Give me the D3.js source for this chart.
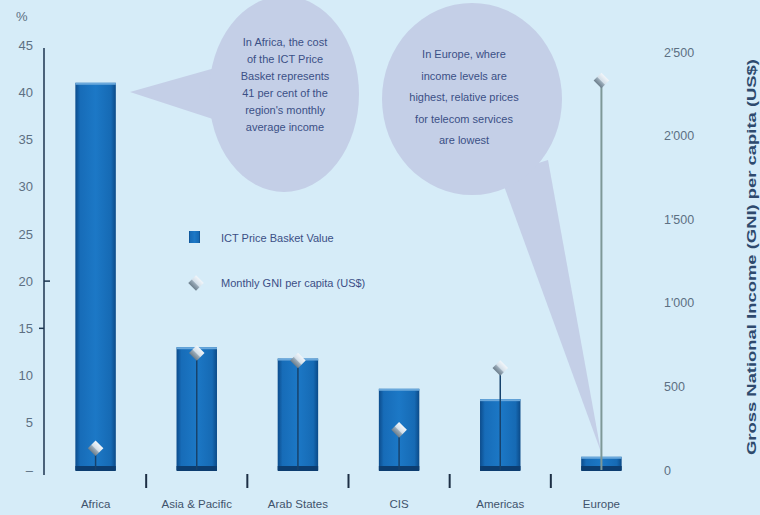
<!DOCTYPE html>
<html>
<head>
<meta charset="utf-8">
<script src="https://cdn.jsdelivr.net/npm/d3@7"></script>
<style>
  body { margin: 0; background: #d6ecf8; }
  svg { display: block; font-family: "Liberation Sans", Arial, sans-serif; }
</style>
</head>
<body>
<div id="chart"></div>
<script>
var regions = ["Africa", "Asia & Pacific", "Arab States", "CIS", "Americas", "Europe"];
var basketPct = [41, 13, 11.8, 8.6, 7.5, 1.4];
var gniMonthly = [130, 700, 655, 240, 610, 2330];
var pctTicks = [0, 5, 10, 15, 20, 25, 30, 35, 40, 45];
var gniTicks = [0, 500, 1000, 1500, 2000, 2500];

var W = 760, H = 515;
var svg = d3.select("#chart").append("svg")
    .attr("width", W)
    .attr("height", H)

svg.append("rect").attr("width", W).attr("height", H).attr("fill", "#d6ecf8")

var defs = svg.append("defs")
var grad = defs.append("linearGradient").attr("id", "barGrad")
    .attr("x1", "0").attr("x2", "1").attr("y1", "0").attr("y2", "0")
grad.append("stop").attr("offset", "0").attr("stop-color", "#0c4c8c")
grad.append("stop").attr("offset", "0.12").attr("stop-color", "#176cb8")
grad.append("stop").attr("offset", "0.5").attr("stop-color", "#1c78c6")
grad.append("stop").attr("offset", "0.88").attr("stop-color", "#166ab4")
grad.append("stop").attr("offset", "1").attr("stop-color", "#0b4a88")

var dGrad = defs.append("linearGradient").attr("id", "diaGrad")
    .attr("x1", "0").attr("x2", "0").attr("y1", "0").attr("y2", "1")
dGrad.append("stop").attr("offset", "0").attr("stop-color", "#f2f6fa")
dGrad.append("stop").attr("offset", "0.5").attr("stop-color", "#d3dfe9")
dGrad.append("stop").attr("offset", "0.6").attr("stop-color", "#9aabb9")
dGrad.append("stop").attr("offset", "1").attr("stop-color", "#6c7e8c")

// scales
var x = d3.scaleBand()
    .domain(regions)
    .range([45, 652])
    .paddingInner(0.6)
    .paddingOuter(0.3)

var y = d3.scaleLinear()
    .domain([0, 45])
    .range([470, 45])

var y2 = d3.scaleLinear()
    .domain([0, 2500])
    .range([470, 52])

// speech bubbles
var bubble = "#c4cfe7";
svg.append("path")
    .attr("d", "M130,92 L222,66 L222,122 Z")
    .attr("fill", bubble)
svg.append("ellipse")
    .attr("cx", 284).attr("cy", 94).attr("rx", 75).attr("ry", 98)
    .attr("fill", bubble)

svg.append("path")
    .attr("d", "M500,175 L548,160 L601,452 Z")
    .attr("fill", bubble)
svg.append("ellipse")
    .attr("cx", 472).attr("cy", 99).attr("rx", 90).attr("ry", 96)
    .attr("fill", bubble)

var note1 = ["In Africa, the cost", "of the ICT Price", "Basket represents", "41 per cent of the", "region's monthly", "average income"];
var note2 = ["In Europe, where", "income levels are", "highest, relative prices", "for telecom services", "are lowest"];

svg.append("g").selectAll("text")
    .data(note1)
    .enter().append("text")
    .attr("x", 285)
    .attr("y", function (d, i) { return 46 + i * 17; })
    .attr("text-anchor", "middle")
    .attr("fill", "#3b4f86")
    .style("font-size", "11px")
    .text(function (d) { return d; })

svg.append("g").selectAll("text")
    .data(note2)
    .enter().append("text")
    .attr("x", 464)
    .attr("y", function (d, i) { return 58 + i * 21.5; })
    .attr("text-anchor", "middle")
    .attr("fill", "#3b4f86")
    .style("font-size", "11px")
    .text(function (d) { return d; })

// left axis
var yAxisCall = d3.axisLeft(y)
    .tickValues(pctTicks)
    .tickSize(0)
    .tickSizeOuter(0)
    .tickPadding(11)
    .tickFormat(function (d) { return d === 0 ? "–" : d; })
var gy = svg.append("g")
    .attr("transform", "translate(44,0)")
    .call(yAxisCall)
gy.select(".domain").attr("stroke", "#1d3550").attr("stroke-width", 1.5)
    .attr("d", "M0," + (y(45) + 3) + "V" + (y(0) + 5))
gy.selectAll("text").attr("fill", "#5d7083").style("font-size", "13px")

// a couple of visible minor ticks
svg.append("line").attr("x1", 44).attr("x2", 50).attr("y1", y(20)).attr("y2", y(20))
    .attr("stroke", "#1d3550").attr("stroke-width", 1.5)
svg.append("line").attr("x1", 39).attr("x2", 44).attr("y1", y(15)).attr("y2", y(15))
    .attr("stroke", "#1d3550").attr("stroke-width", 1.5)

svg.append("text")
    .attr("x", 16).attr("y", 21)
    .attr("fill", "#5d7083")
    .style("font-size", "13px")
    .text("%")

// right axis
var yAxis2 = d3.axisRight(y2)
    .tickValues(gniTicks)
    .tickSize(0)
    .tickPadding(12)
    .tickFormat(function (d) { return d3.format(",")(d).replace(",", "'"); })
var gy2 = svg.append("g")
    .attr("transform", "translate(652,0)")
    .call(yAxis2)
gy2.select(".domain").remove()
gy2.selectAll("text").attr("fill", "#5d7083").style("font-size", "12.5px")

svg.append("text")
    .attr("transform", "translate(756,257) rotate(-90)")
    .attr("text-anchor", "middle")
    .attr("fill", "#2e4a6e")
    .style("font-size", "12px")
    .style("font-weight", "bold")
    .attr("textLength", 396)
    .attr("lengthAdjust", "spacingAndGlyphs")
    .text("Gross National Income (GNI) per capita (US$)")

// separators between regions
svg.append("g").selectAll("line")
    .data(regions.slice(1))
    .enter().append("line")
    .attr("x1", function (d) { return x(d) - x.step() * x.paddingInner() / 2; })
    .attr("x2", function (d) { return x(d) - x.step() * x.paddingInner() / 2; })
    .attr("y1", 474).attr("y2", 488)
    .attr("stroke", "#1d2f45").attr("stroke-width", 2)

// bars
var bars = svg.append("g").selectAll("g")
    .data(regions)
    .enter().append("g")
bars.append("rect")
    .attr("x", function (d) { return x(d); })
    .attr("width", x.bandwidth())
    .attr("y", function (d, i) { return y(basketPct[i]); })
    .attr("height", function (d, i) { return y(0) - y(basketPct[i]); })
    .attr("fill", "url(#barGrad)")
bars.append("rect")
    .attr("x", function (d) { return x(d); })
    .attr("width", x.bandwidth())
    .attr("y", function (d, i) { return y(basketPct[i]); })
    .attr("height", 2)
    .attr("fill", "#6aa8dc")
bars.append("rect")
    .attr("x", function (d) { return x(d); })
    .attr("width", x.bandwidth())
    .attr("y", y(0) - 4)
    .attr("height", 5)
    .attr("fill", "#0c3d70")

// GNI drop lines + diamonds
var pts = svg.append("g").selectAll("g")
    .data(regions)
    .enter().append("g")
pts.append("line")
    .attr("x1", function (d) { return x(d) + x.bandwidth() / 2; })
    .attr("x2", function (d) { return x(d) + x.bandwidth() / 2; })
    .attr("y1", y2(0))
    .attr("y2", function (d, i) { return y2(gniMonthly[i]); })
    .attr("stroke", function (d, i) { return i === 5 ? "#7e9898" : "#17426c"; })
    .attr("stroke-width", function (d, i) { return i === 5 ? 2 : 1.5; })
pts.append("rect")
    .attr("x", -5.5).attr("y", -5.5).attr("width", 11).attr("height", 11)
    .attr("transform", function (d, i) {
        return "translate(" + (x(d) + x.bandwidth() / 2) + "," + y2(gniMonthly[i]) + ") rotate(45)";
    })
    .attr("fill", "url(#diaGrad)")

// x labels
svg.append("g").selectAll("text")
    .data(regions)
    .enter().append("text")
    .attr("x", function (d) { return x(d) + x.bandwidth() / 2; })
    .attr("y", 508)
    .attr("text-anchor", "middle")
    .attr("fill", "#3f536c")
    .style("font-size", "11.5px")
    .text(function (d) { return d; })

// legend
svg.append("rect")
    .attr("x", 189).attr("y", 231).attr("width", 11).attr("height", 12)
    .attr("fill", "url(#barGrad)")
svg.append("text")
    .attr("x", 221).attr("y", 242)
    .attr("fill", "#3b4f86")
    .style("font-size", "11px")
    .text("ICT Price Basket Value")
svg.append("rect")
    .attr("x", -5.5).attr("y", -5.5).attr("width", 11).attr("height", 11)
    .attr("transform", "translate(196,283) rotate(45)")
    .attr("fill", "url(#diaGrad)")
svg.append("text")
    .attr("x", 221).attr("y", 287)
    .attr("fill", "#3b4f86")
    .style("font-size", "11px")
    .text("Monthly GNI per capita (US$)")
</script>
</body>
</html>
